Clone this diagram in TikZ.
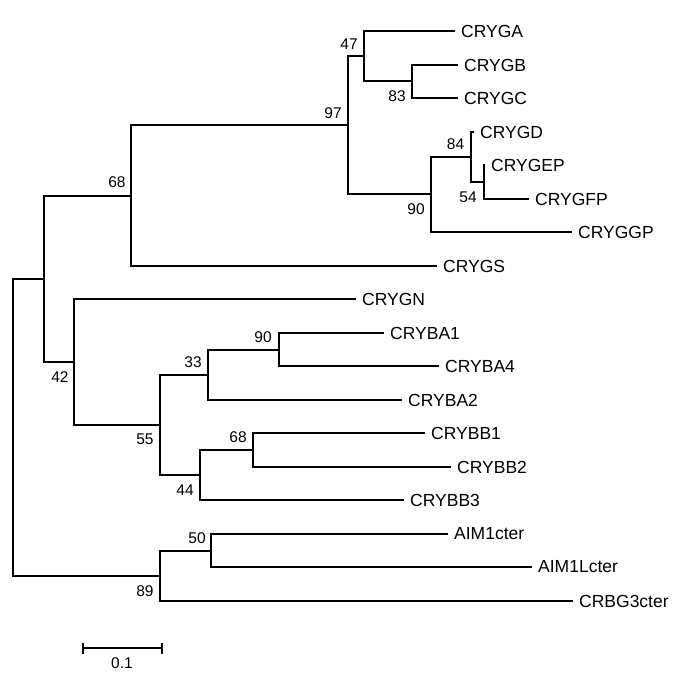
\documentclass[tikz,border=0pt]{standalone}
\usepackage{fontspec}
\setmainfont{Liberation Sans}
\begin{document}
\begin{tikzpicture}[x=1pt,y=-1pt,
  br/.style={line width=1.2pt},
  leaf/.style={anchor=west, inner sep=0pt, font=\fontsize{17.5}{17.5}\selectfont},
  boot/.style={inner sep=0pt, font=\fontsize{15.5}{15.5}\selectfont}]
\useasboundingbox (0,0) rectangle (685,678);
% internal nodes (x, attach y)
\coordinate (root) at (13,427);
\coordinate (nA)   at (44,279);
\coordinate (n68)  at (131,196);
\coordinate (n97)  at (348,125);
\coordinate (n47)  at (364,56);
\coordinate (n83)  at (412,81);
\coordinate (n90a) at (431,194);
\coordinate (n84)  at (471,157);
\coordinate (n54)  at (484,182);
\coordinate (n42)  at (74,362);
\coordinate (n55)  at (160,425);
\coordinate (n33)  at (208,375);
\coordinate (n90b) at (279,350);
\coordinate (n44)  at (200,475);
\coordinate (n68b) at (253,450);
\coordinate (n89)  at (160,576);
\coordinate (n50)  at (211,551);
% leaves
\coordinate (lGA)  at (455,31);
\coordinate (lGB)  at (458,65);
\coordinate (lGC)  at (458,98);
\coordinate (lGD)  at (474,132);
\coordinate (lGEP) at (485,165);
\coordinate (lGFP) at (529,199);
\coordinate (lGGP) at (572,232);
\coordinate (lGS)  at (437,266);
\coordinate (lGN)  at (356,299);
\coordinate (lBA1) at (384,333);
\coordinate (lBA4) at (439,366);
\coordinate (lBA2) at (402,400);
\coordinate (lBB1) at (425,433);
\coordinate (lBB2) at (451,467);
\coordinate (lBB3) at (404,500);
\coordinate (lAIM) at (448,534);
\coordinate (lAIML) at (532,567);
\coordinate (lCRBG) at (573,601);
% branches
\draw[br] (root) |- (nA);  \draw[br] (root) |- (n89);
\draw[br] (nA) |- (n68);   \draw[br] (nA) |- (n42);
\draw[br] (n68) |- (n97);  \draw[br] (n68) |- (lGS);
\draw[br] (n97) |- (n47);  \draw[br] (n97) |- (n90a);
\draw[br] (n47) |- (lGA);  \draw[br] (n47) |- (n83);
\draw[br] (n83) |- (lGB);  \draw[br] (n83) |- (lGC);
\draw[br] (n90a) |- (n84); \draw[br] (n90a) |- (lGGP);
\draw[br] (n84) |- (lGD);  \draw[br] (n84) |- (n54);
\draw[br] (n54) |- (lGEP); \draw[br] (n54) |- (lGFP);
\draw[br] (n42) |- (lGN);  \draw[br] (n42) |- (n55);
\draw[br] (n55) |- (n33);  \draw[br] (n55) |- (n44);
\draw[br] (n33) |- (n90b); \draw[br] (n33) |- (lBA2);
\draw[br] (n90b) |- (lBA1); \draw[br] (n90b) |- (lBA4);
\draw[br] (n44) |- (n68b); \draw[br] (n44) |- (lBB3);
\draw[br] (n68b) |- (lBB1); \draw[br] (n68b) |- (lBB2);
\draw[br] (n89) |- (n50);  \draw[br] (n89) |- (lCRBG);
\draw[br] (n50) |- (lAIM); \draw[br] (n50) |- (lAIML);
% leaf labels
\node[leaf] (tGA)  at ([xshift=6pt]lGA)  {CRYGA};
\node[leaf] (tGB)  at ([xshift=6pt]lGB)  {CRYGB};
\node[leaf] (tGC)  at ([xshift=6pt]lGC)  {CRYGC};
\node[leaf] (tGD)  at ([xshift=6pt]lGD)  {CRYGD};
\node[leaf] (tGEP) at ([xshift=6pt]lGEP) {CRYGEP};
\node[leaf] (tGFP) at ([xshift=6pt]lGFP) {CRYGFP};
\node[leaf] (tGGP) at ([xshift=6pt]lGGP) {CRYGGP};
\node[leaf] (tGS)  at ([xshift=6pt]lGS)  {CRYGS};
\node[leaf] (tGN)  at ([xshift=6pt]lGN)  {CRYGN};
\node[leaf] (tBA1) at ([xshift=6pt]lBA1) {CRYBA1};
\node[leaf] (tBA4) at ([xshift=6pt]lBA4) {CRYBA4};
\node[leaf] (tBA2) at ([xshift=6pt]lBA2) {CRYBA2};
\node[leaf] (tBB1) at ([xshift=6pt]lBB1) {CRYBB1};
\node[leaf] (tBB2) at ([xshift=6pt]lBB2) {CRYBB2};
\node[leaf] (tBB3) at ([xshift=6pt]lBB3) {CRYBB3};
\node[leaf] (tAIM) at ([xshift=6pt]lAIM) {AIM1cter};
\node[leaf] (tAIML) at ([xshift=6pt]lAIML) {AIM1Lcter};
\node[leaf] (tCRBG) at ([xshift=6pt]lCRBG) {CRBG3cter};
% bootstrap values
\node[boot] (b68)  at (117,182)   {68};
\node[boot] (b97)  at (333,113)   {97};
\node[boot] (b47)  at (349,44)    {47};
\node[boot] (b83)  at (397,96.5)  {83};
\node[boot] (b84)  at (455.5,144) {84};
\node[boot] (b54)  at (468,197.5) {54};
\node[boot] (b90a) at (416,209)   {90};
\node[boot] (b42)  at (60,377)    {42};
\node[boot] (b90b) at (263,337.5) {90};
\node[boot] (b33)  at (193,362)   {33};
\node[boot] (b55)  at (145,439.5) {55};
\node[boot] (b68b) at (238,437.5) {68};
\node[boot] (b44)  at (185,490)   {44};
\node[boot] (b50)  at (197,538)   {50};
\node[boot] (b89)  at (145,591)   {89};
% scale bar
\coordinate (s1) at (83,648);
\coordinate (s2) at (162,648);
\draw[br] (s1) -- (s2);
\draw[br] ([yshift=-5.5pt]s1) -- ([yshift=5.5pt]s1);
\draw[br] ([yshift=-5.5pt]s2) -- ([yshift=5.5pt]s2);
\node[boot] (sc) at (122,663.5) {0.1};
\end{tikzpicture}
\end{document}
